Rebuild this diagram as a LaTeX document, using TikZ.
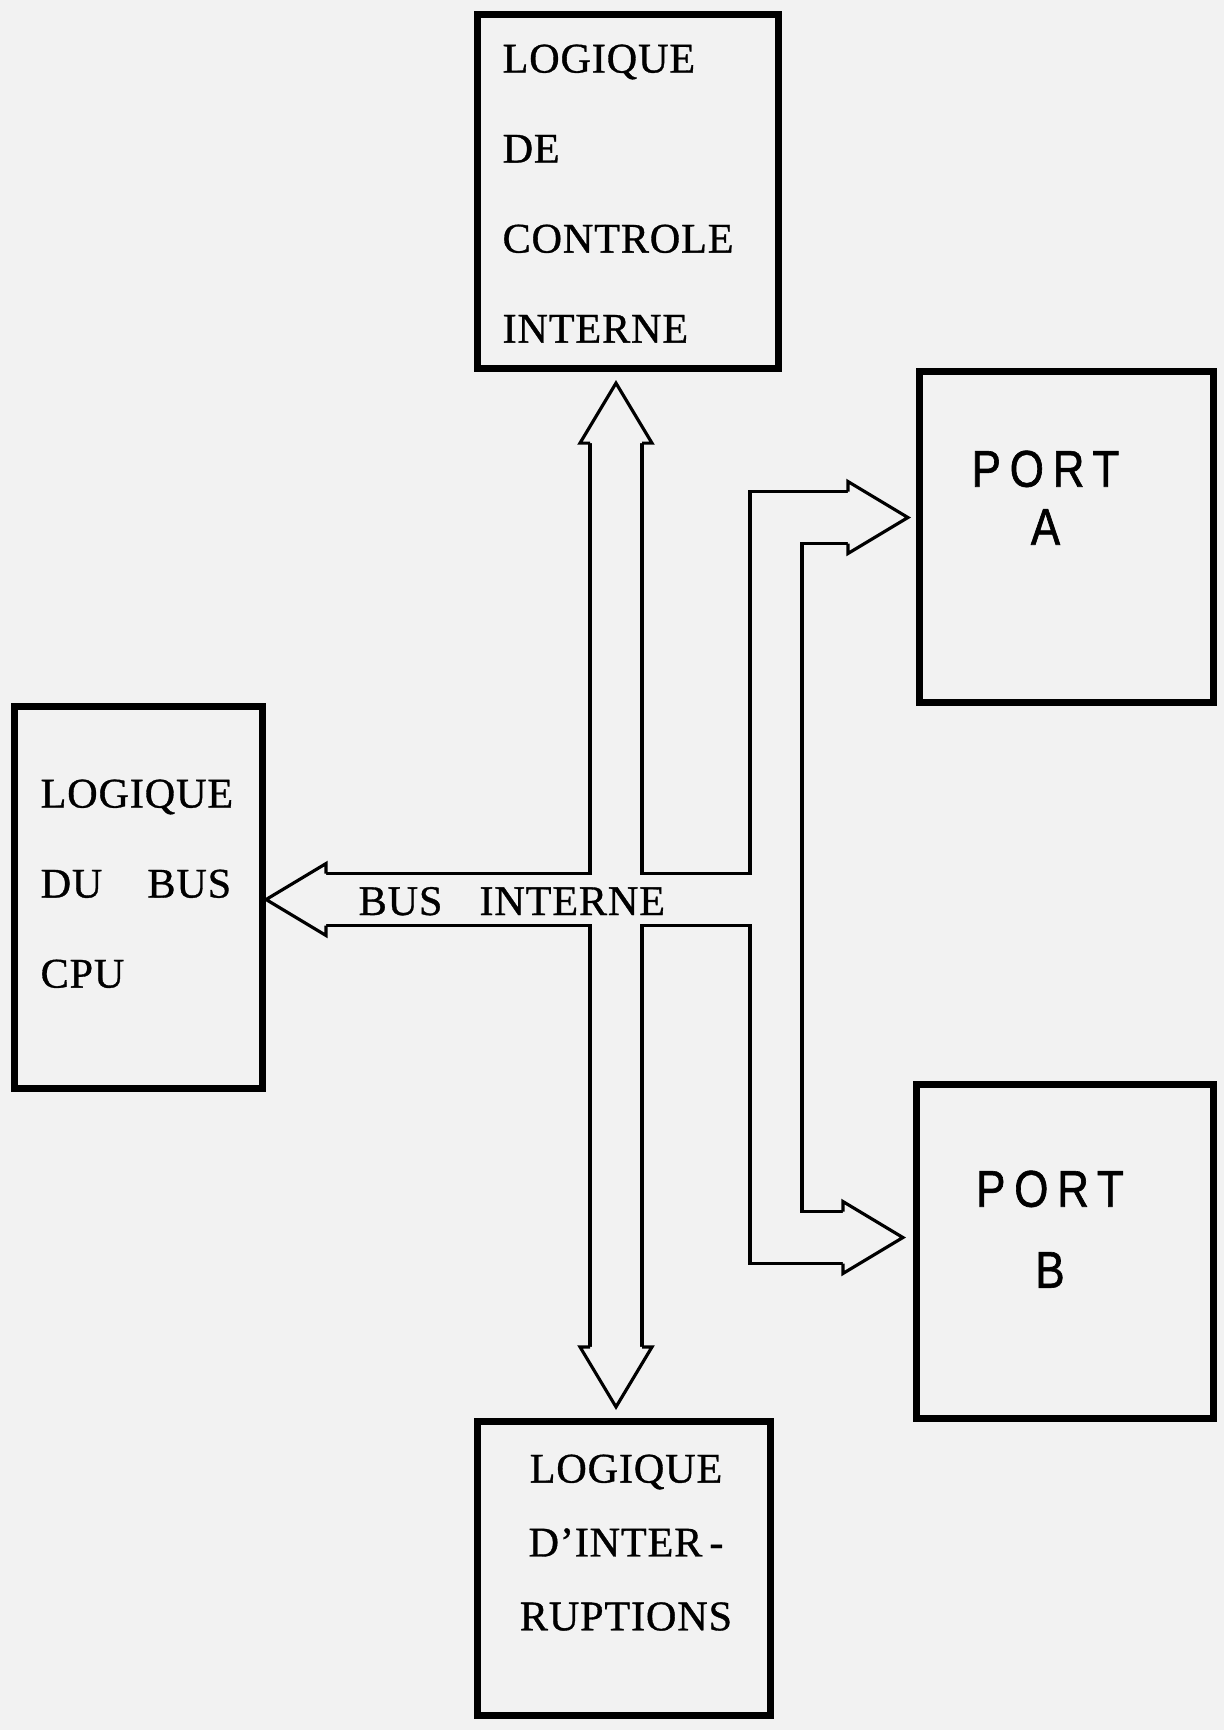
\documentclass[tikz,border=0pt]{standalone}
\usepackage{fontspec}
\setmainfont{Liberation Serif}[FakeBold=0.8]
\newfontfamily\portfont{Liberation Sans}[FakeStretch=0.85,LetterSpace=17,FakeBold=1.2]
\usetikzlibrary{calc}
\definecolor{paper}{gray}{0.95}

\begin{document}
\begin{tikzpicture}[
            x=0.01cm, y=-0.01cm,
            box/.style={draw, rectangle, line width=2pt, inner sep=0pt, outer sep=0pt},
            boxtext/.style={inner sep=0pt, font=\fontsize{12}{25.6}\selectfont\addfontfeature{LetterSpace=2}},
            porttext/.style={align=center, inner sep=0pt, font=\portfont\fontsize{14.7}{16.5}\selectfont},
            bushead/.pic={
                \filldraw[fill=paper, line width=0.9pt] (-26,60) -- (-36,60) -- (0,0) -- (36,60) -- (26,60);
            }
        ]
        \fill[paper] (0,0) rectangle (1224,1730);
        \useasboundingbox (0,0) rectangle (1224,1730);

        % blocs
        \node[box, minimum width=3cm, minimum height=3.53cm] (ctrl) at (628,191.5) {};
        \node[box, minimum width=2.47cm, minimum height=3.81cm] (cpu) at (138.5,897.5) {};
        \node[box, minimum width=2.92cm, minimum height=2.93cm] (intr) at (624,1568.5) {};
        \node[box, minimum width=2.93cm, minimum height=3.3cm] (portA) at (1066.5,537) {};
        \node[box, minimum width=2.96cm, minimum height=3.33cm] (portB) at (1065,1251.5) {};

        \node[boxtext, align=left, anchor=north west] (ctrl-txt) at ($(ctrl.north west)+(24,29)$)
            {LOGIQUE\\DE\\CONTROLE\\INTERNE};
        \node[boxtext, align=left, anchor=north west] (cpu-txt) at ($(cpu.north west)+(25,72)$)
            {LOGIQUE\\DU\hspace{0.45cm}BUS\\CPU};
        \node[boxtext, align=center, anchor=north, font=\fontsize{12}{21}\selectfont\addfontfeature{LetterSpace=2}] (intr-txt) at ($(intr.north)+(2,32)$)
            {LOGIQUE\\D’INTER\,-\\RUPTIONS};
        \node[porttext, anchor=north] (portA-txt) at ($(portA.north)+(-21,78)$) {PORT\\A};
        \node[porttext, anchor=north] (portB-txt) at ($(portB.north)+(-15,85)$) {PORT\\[0.23cm]B};

        % bus interne
        \coordinate (hub) at (616,899.5);
        \coordinate (split) at (776,899.5);
        \coordinate (tipC) at ($(hub |- ctrl.south)+(0,15)$);
        \coordinate (tipI) at ($(hub |- intr.north)+(0,-15)$);
        \coordinate (tipL) at ($(hub -| cpu.east)+(4,0)$);
        \coordinate (tipA) at ($(portA.west)+(-12,-19.5)$);
        \coordinate (tipB) at ($(portB.west)+(-14,-14)$);

        \foreach \w/\c in {0.552cm/black, 0.488cm/paper} {
            \draw[line width=\w, \c, shorten <=0.6cm, shorten >=0.6cm] (tipC) -- (tipI);
            \draw[line width=\w, \c, shorten >=0.6cm] (hub) -- (tipL);
            \draw[line width=\w, \c] (hub) -- (split);
            \draw[line width=\w, \c, shorten <=0.6cm, shorten >=0.6cm] (tipA) -| (split) |- (tipB);
        }

        \pic at (tipC) {bushead};
        \pic[rotate=180] at (tipI) {bushead};
        \pic[rotate=90] at (tipL) {bushead};
        \pic[rotate=-90] at (tipA) {bushead};
        \pic[rotate=-90] at (tipB) {bushead};

        \node[boxtext, anchor=base west] (bus-txt) at ($(hub)+(-258,15.5)$) {BUS\hspace{0.37cm}INTERNE};
    \end{tikzpicture}
\end{document}
